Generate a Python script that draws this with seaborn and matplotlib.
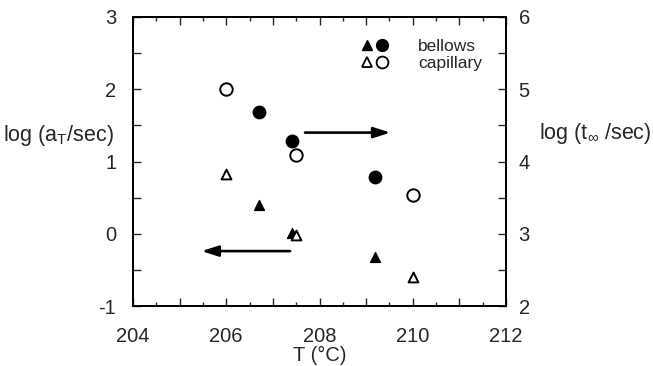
import numpy as np
import pandas as pd
import seaborn as sns
import matplotlib.pyplot as plt
from matplotlib.lines import Line2D
from matplotlib.legend_handler import HandlerTuple
from matplotlib.ticker import MultipleLocator, FixedLocator

sns.set_style('white')
plt.rcParams['font.family'] = ['Liberation Sans', 'DejaVu Sans']
plt.rcParams['mathtext.fontset'] = 'custom'
plt.rcParams['mathtext.rm'] = 'Liberation Sans'
plt.rcParams['mathtext.it'] = 'Liberation Sans'

# data
T_bellows = [206.7, 207.4, 209.2]
logaT_bellows = [0.40, 0.01, -0.32]
logtinf_bellows = [4.69, 4.29, 3.78]

T_capillary = [206.0, 207.5, 210.0]
logaT_capillary = [0.83, -0.02, -0.60]
logtinf_capillary = [5.00, 4.09, 3.54]

# arrows (left-axis units): start, end
arrow_to_left = [(207.37, -0.24), (205.47, -0.24)]
arrow_to_right = [(207.69, 1.40), (209.52, 1.40)]

xtick_labels = ['204', '', '206', '', '208', '', '210', '', '212']

fig = plt.figure(figsize=(6.53, 3.66), dpi=100)
ax = fig.add_axes([133 / 653, 60 / 366, 373 / 653, 289 / 366])
ax2 = ax.twinx()

tri_size = 50
circ_size = 80

sns.scatterplot(x=T_bellows, y=logaT_bellows, marker='^', s=tri_size,
                color='black', edgecolor='black', linewidth=1, ax=ax)
sns.scatterplot(x=T_capillary, y=logaT_capillary, marker='^', s=tri_size,
                color='white', edgecolor='black', linewidth=1.4, ax=ax)
sns.scatterplot(x=T_bellows, y=logtinf_bellows, marker='o', s=circ_size,
                color='black', edgecolor='black', linewidth=1, ax=ax2)
sns.scatterplot(x=T_capillary, y=logtinf_capillary, marker='o', s=circ_size,
                color='white', edgecolor='black', linewidth=1.4, ax=ax2)

for start, end in (arrow_to_left, arrow_to_right):
    ax.annotate('', xy=end, xytext=start,
                arrowprops=dict(arrowstyle='-|>,head_length=1.0,head_width=0.32',
                                color='black', lw=1.9, shrinkA=0, shrinkB=0))

ax.set_xlim(204, 212)
ax.set_ylim(-1, 3)
ax2.set_ylim(2, 6)

ax.xaxis.set_major_locator(FixedLocator(np.arange(204, 213, 1)))
ax.set_xticklabels(xtick_labels)
ax.xaxis.set_minor_locator(MultipleLocator(0.5))
ax.set_yticks(np.arange(-1, 3.01, 0.5))
ax.set_yticklabels([f'{v:g}' if v == int(v) else '' for v in np.arange(-1, 3.01, 0.5)])
ax2.set_yticks(np.arange(2, 6.01, 0.5))
ax2.set_yticklabels([f'{v:g}' if v == int(v) else '' for v in np.arange(2, 6.01, 0.5)])

ax.tick_params(axis='x', which='major', direction='in', length=6, width=1,
               top=True, bottom=True, labelsize=14.5, pad=15)
ax.tick_params(axis='x', which='minor', direction='in', length=3, width=1,
               top=True, bottom=True)
ax.tick_params(axis='y', which='major', direction='in', length=6, width=1,
               left=True, labelsize=14.5, pad=12)
ax2.tick_params(axis='y', which='major', direction='in', length=6, width=1,
                right=True, labelsize=14.5, pad=9)

for a in (ax, ax2):
    for sp in a.spines.values():
        sp.set_linewidth(1.4)
        sp.set_color('black')

ax.set_xlabel('T (°C)', fontsize=14.5, labelpad=0)
ax.set_ylabel('')
ax2.set_ylabel('')
fig.text(114 / 653, 1 - 135 / 366, 'log (a$_T$/sec)', ha='right', va='center', fontsize=15.5)
fig.text(539 / 653, 1 - 133 / 366, r'log (t$_\infty$ /sec)', ha='left', va='center', fontsize=15.5)

h_tri_f = Line2D([], [], marker='^', ls='', color='black', markersize=6.5)
h_cir_f = Line2D([], [], marker='o', ls='', color='black', markersize=8.5)
h_tri_o = Line2D([], [], marker='^', ls='', markerfacecolor='white',
                 markeredgecolor='black', markeredgewidth=1.3, markersize=6.5)
h_cir_o = Line2D([], [], marker='o', ls='', markerfacecolor='white',
                 markeredgecolor='black', markeredgewidth=1.3, markersize=8.5)
ax2.legend([(h_tri_f, h_cir_f), (h_tri_o, h_cir_o)], ['bellows', 'capillary'],
           handler_map={tuple: HandlerTuple(ndivide=None, pad=0.2)},
           loc='upper left', bbox_to_anchor=(0.61, 0.925), frameon=False,
           fontsize=12.5, borderpad=0, borderaxespad=0, handlelength=1.6,
           handletextpad=1.7, labelspacing=0.12)

fig.savefig('out.png', dpi=100)
